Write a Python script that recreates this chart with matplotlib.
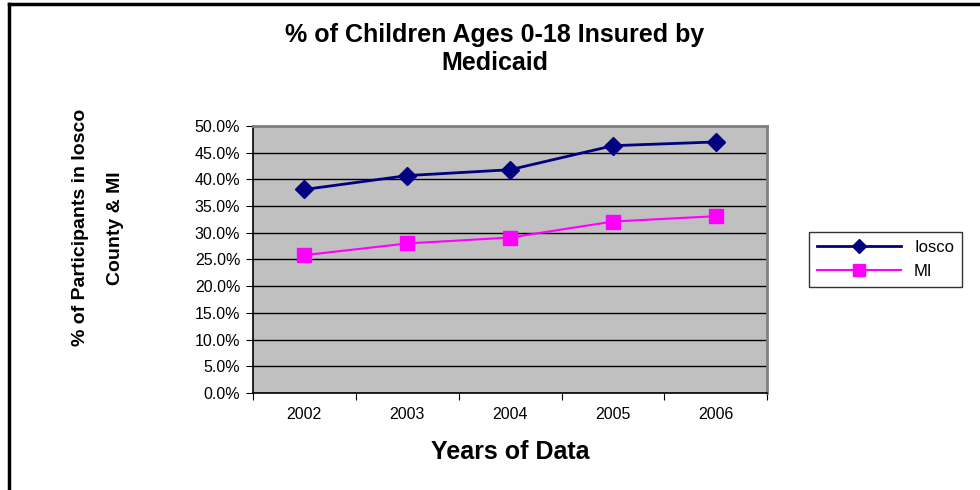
import numpy as np
import matplotlib
matplotlib.use("Agg")
import matplotlib.pyplot as plt
from matplotlib.ticker import FixedLocator, PercentFormatter

plt.rcParams['font.family'] = ['Liberation Sans', 'DejaVu Sans']

# data
years = ['2002', '2003', '2004', '2005', '2006']
iosco = [38.1, 40.7, 41.8, 46.3, 47.0]
mi = [25.8, 28.0, 29.1, 32.1, 33.1]
yticks = np.arange(0, 50.1, 5)

fig = plt.figure(figsize=(9.8, 4.9), dpi=100)
ax = fig.add_axes([0.258, 0.198, 0.525, 0.545])
ax.set_facecolor('#C0C0C0')

x = np.arange(len(years))
ax.plot(x, iosco, color='#000080', lw=2, marker='D', ms=9, label='Iosco', zorder=3)
ax.plot(x, mi, color='#FF00FF', lw=1.5, marker='s', ms=10, label='MI', zorder=3)

ax.set_ylim(0, 50)
ax.set_xlim(-0.5, len(years) - 0.5)
ax.set_yticks(yticks)
ax.yaxis.set_major_formatter(PercentFormatter(decimals=1))
ax.yaxis.grid(True, color='black', lw=1)
ax.set_axisbelow(True)

# category ticks at the boundaries, labels at the centres
ax.xaxis.set_major_locator(FixedLocator(np.arange(-0.5, len(years), 1.0)))
ax.set_xticklabels([])
ax.set_xticks(x, minor=True)
ax.set_xticklabels(years, minor=True)
ax.tick_params(axis='x', which='minor', length=0, pad=10, labelsize=11.5)
ax.tick_params(axis='x', which='major', length=5, color='black')
ax.tick_params(axis='y', length=5, labelsize=11.5, pad=4)

for s in ['top', 'right']:
    ax.spines[s].set_color('#808080')
    ax.spines[s].set_linewidth(2)
for s in ['left', 'bottom']:
    ax.spines[s].set_color('black')
    ax.spines[s].set_linewidth(1.2)

ax.set_xlabel('Years of Data', fontsize=18, fontweight='bold', labelpad=13)
fig.text(0.505, 0.9, '% of Children Ages 0-18 Insured by\nMedicaid', ha='center', va='center',
         fontsize=18, fontweight='bold', linespacing=1.25)
fig.text(0.1, 0.535, '% of Participants in Iosco\n\nCounty & MI', rotation=90, ha='center', va='center',
         fontsize=14, fontweight='bold', linespacing=1.05)

leg = ax.legend(loc='center left', bbox_to_anchor=(1.065, 0.5), frameon=True, fancybox=False,
                edgecolor='black', fontsize=12, handlelength=5, borderpad=0.5, labelspacing=0.5,
                markerscale=0.8)
leg.get_frame().set_linewidth(1)

# outer chart frame: top and left edges only
fig.add_artist(plt.Line2D([0.009, 1.0], [0.992, 0.992], color='black', lw=2.5, transform=fig.transFigure))
fig.add_artist(plt.Line2D([0.009, 0.009], [0.0, 0.992], color='black', lw=2.5, transform=fig.transFigure))

fig.savefig('out.png', dpi=100)
